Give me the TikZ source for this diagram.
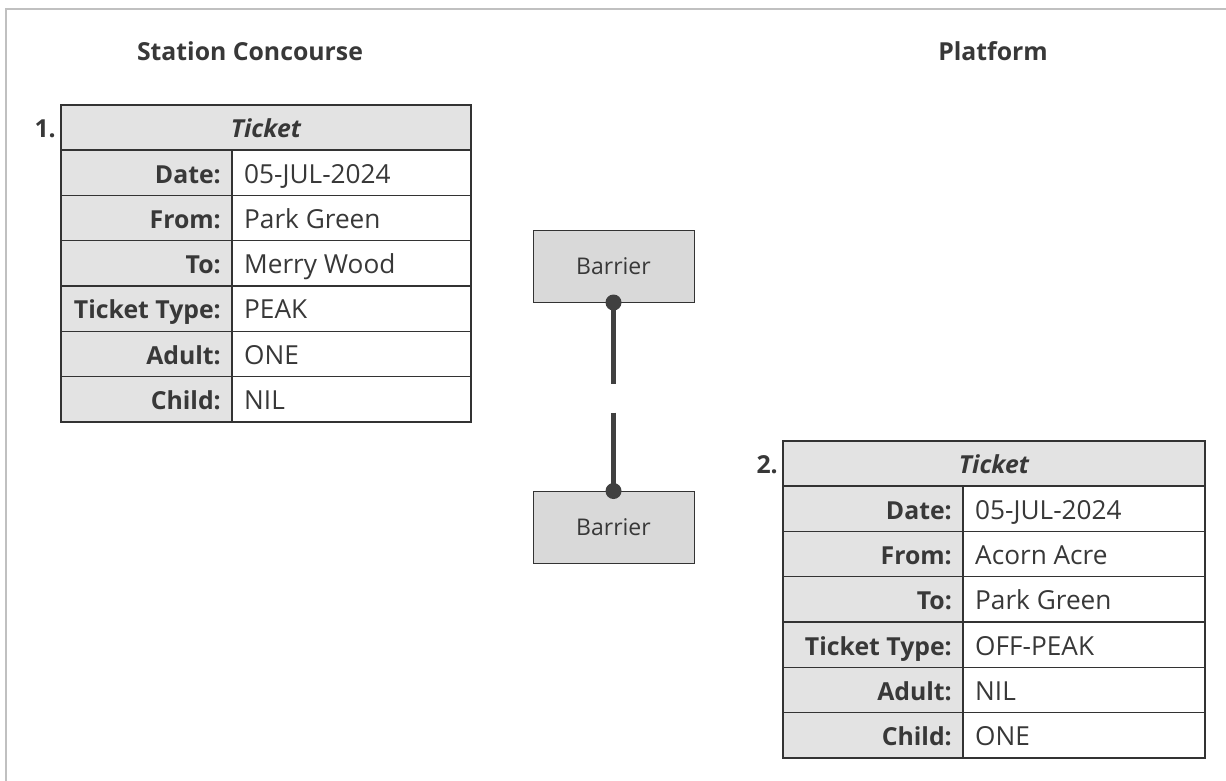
\documentclass[tikz,border=0pt]{standalone}
\usepackage{fontspec}
\setmainfont{Open Sans}
\definecolor{txt}{HTML}{383838}
\definecolor{cellgray}{HTML}{E3E3E3}
\definecolor{barfill}{HTML}{D9D9D9}
\definecolor{linec}{HTML}{404040}
\definecolor{framec}{HTML}{C0C0C0}
\definecolor{gridc}{HTML}{333333}
\newcommand\boldtxt{\fontsize{24.8}{30}\selectfont\bfseries}
\newcommand\drawticket[7]{%
  \fill[cellgray] (#2,#5) rectangle (#4,#5+45);
  \fill[cellgray] (#2,#5+45) rectangle (#3,#5+317);
  \node[anchor=base] (#1h) at ({(#2+#4)/2},#5+32) {\boldtxt\itshape Ticket};
  \node[anchor=base east] (#1n) at (#2-5,#5+32) {\boldtxt #6};
  \foreach \lab/\val [count=\i] in {#7} {
    \pgfmathsetmacro\yy{#5+45+(\i-1)*45.33}
    \draw[innerline] (#2,\yy) -- (#4,\yy);
    \node[anchor=base east] (#1l\i) at (#3-11,\yy+33) {\boldtxt\lab};
    \node[anchor=base west] (#1v\i) at (#3+12,\yy+33) {\val};
  }
  \draw[innerline] (#3,#5+45) -- (#3,#5+317);
  \draw[outerline] (#2,#5) rectangle (#4,#5+317);
}
\begin{document}
\begin{tikzpicture}[x=1pt,y=-1pt,
  every node/.style={text=txt, font=\fontsize{26.2}{31}\selectfont, inner sep=0pt},
  innerline/.style={draw=gridc, line width=1.3pt},
  outerline/.style={draw=gridc, line width=2.2pt},
  barrier/.style={draw=gridc, line width=1pt, fill=barfill, minimum width=161pt, minimum height=72pt, font=\fontsize{23}{28}\selectfont},
  conn/.style={draw=linec, line width=5pt, dash pattern=on 81pt off 29pt on 90pt},
  dot/.style={fill=linec}]
\useasboundingbox (0,0) rectangle (1226,780);
\fill[white] (0,0) rectangle (1226,780);
\draw[draw=framec, line width=2pt] (6,800) -- (6,9) -- (1240,9);
\node[anchor=base] (t1) at (250,60) {\boldtxt Station Concourse};
\node[anchor=base] (t2) at (993,60) {\boldtxt Platform};
\drawticket{a}{61}{232}{471}{105}{1.}{Date:/05-JUL-2024, From:/Park Green, To:/Merry Wood, Ticket Type:/PEAK, Adult:/ONE, Child:/NIL}
\drawticket{b}{783}{963}{1205}{441}{2.}{Date:/05-JUL-2024, From:/Acorn Acre, To:/Park Green, Ticket Type:/OFF-PEAK, Adult:/NIL, Child:/ONE}
\node[barrier] (b1) at (613.5,266) {Barrier};
\node[barrier] (b2) at (613.5,527.5) {Barrier};
\draw[conn] (b1.south) -- (b2.north);
\fill[dot] (b1.south) circle (8pt);
\fill[dot] (b2.north) circle (8pt);
\end{tikzpicture}
\end{document}
